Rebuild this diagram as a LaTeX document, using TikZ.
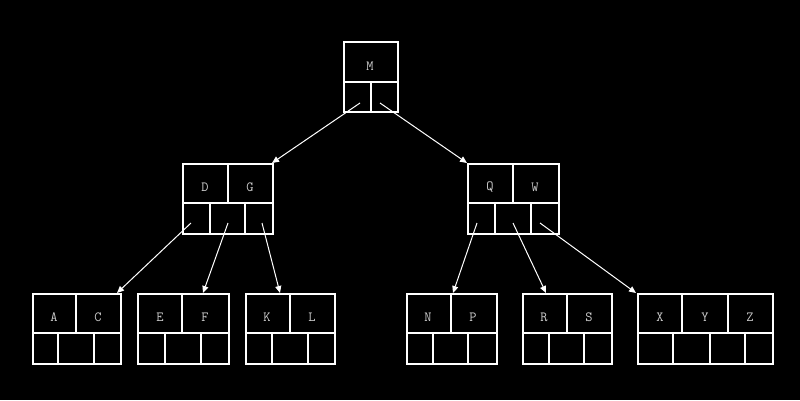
\documentclass[tikz,border=0pt]{standalone}
\usetikzlibrary{arrows.meta}
\definecolor{keygray}{RGB}{205,205,205}
\tikzset{
  boxline/.style={draw=white, line width=1.6pt},
  keytext/.style={text=keygray, font=\ttfamily\fontsize{14}{14}\selectfont, inner sep=0pt},
  ptr/.style={draw=white, line width=1pt, -{Triangle[length=7pt,width=6pt]}},
}
% \btbox{name}{x1}{y1}{x2}{y2}{ymid}
\newcommand{\btbox}[6]{%
  \node[boxline, inner sep=0pt, anchor=north west, minimum width={(#4-#2)*1pt}, minimum height={(#5-#3)*1pt}] (#1) at (#2,#3) {};
  \draw[boxline] (#2,#6) -- (#4,#6);
}
\newcommand{\vdiv}[3]{\draw[boxline] (#1,#2) -- (#1,#3);}
\begin{document}
\begin{tikzpicture}[x=1pt,y=-1pt]
\fill[black] (0,0) rectangle (800,400);
\useasboundingbox (0,0) rectangle (800,400);

% root
\btbox{m}{343}{41}{397}{111}{82}
\vdiv{371}{82}{111}
\node[keytext] (km) at (370,66) {M};

% level 1
\btbox{dg}{182}{163}{272}{233}{203}
\vdiv{228}{163}{203}
\vdiv{210}{203}{233}\vdiv{245}{203}{233}
\node[keytext] (kd) at (205,187) {D};
\node[keytext] (kg) at (250,187) {G};

\btbox{qw}{467}{163}{558}{233}{203}
\vdiv{513}{163}{203}
\vdiv{495}{203}{233}\vdiv{531}{203}{233}
\node[keytext] (kq) at (490,187) {Q};
\node[keytext] (kw) at (535,187) {W};

% leaves
\btbox{ac}{32}{293}{120}{363}{333}
\vdiv{76}{293}{333}
\vdiv{58}{333}{363}\vdiv{94}{333}{363}
\node[keytext] (ka) at (54,317) {A};
\node[keytext] (kc) at (98,317) {C};

\btbox{ef}{137}{293}{228}{363}{333}
\vdiv{182}{293}{333}
\vdiv{165}{333}{363}\vdiv{201}{333}{363}
\node[keytext] (ke) at (160,317) {E};
\node[keytext] (kf) at (205,317) {F};

\btbox{kl}{245}{293}{334}{363}{333}
\vdiv{290}{293}{333}
\vdiv{272}{333}{363}\vdiv{308}{333}{363}
\node[keytext] (kk) at (267,317) {K};
\node[keytext] (kll) at (312,317) {L};

\btbox{np}{406}{293}{496}{363}{333}
\vdiv{451}{293}{333}
\vdiv{433}{333}{363}\vdiv{468}{333}{363}
\node[keytext] (kn) at (428,317) {N};
\node[keytext] (kp) at (473,317) {P};

\btbox{rs}{522}{293}{611}{363}{333}
\vdiv{567}{293}{333}
\vdiv{549}{333}{363}\vdiv{584}{333}{363}
\node[keytext] (kr) at (544,317) {R};
\node[keytext] (ks) at (589,317) {S};

\btbox{xyz}{637}{293}{772}{363}{333}
\vdiv{682}{293}{333}\vdiv{728}{293}{333}
\vdiv{673}{333}{363}\vdiv{710}{333}{363}\vdiv{745}{333}{363}
\node[keytext] (kx) at (660,317) {X};
\node[keytext] (ky) at (705,317) {Y};
\node[keytext] (kz) at (750,317) {Z};

% pointer coordinates
\coordinate (m1) at (360,103);
\coordinate (m2) at (380,103);
\coordinate (d1) at (191,223);
\coordinate (d2) at (228,223);
\coordinate (d3) at (262,223);
\coordinate (q1) at (477,223);
\coordinate (q2) at (513,223);
\coordinate (q3) at (540,223);
\coordinate (tdg) at (272,163);
\coordinate (tqw) at (467,163);
\coordinate (tac) at (117,293);
\coordinate (tef) at (203,293);
\coordinate (tkl) at (280,293);
\coordinate (tnp) at (453,293);
\coordinate (trs) at (546,293);
\coordinate (txyz) at (636,293);

\draw[ptr] (m1) -- (tdg);
\draw[ptr] (m2) -- (tqw);
\draw[ptr] (d1) -- (tac);
\draw[ptr] (d2) -- (tef);
\draw[ptr] (d3) -- (tkl);
\draw[ptr] (q1) -- (tnp);
\draw[ptr] (q2) -- (trs);
\draw[ptr] (q3) -- (txyz);
\end{tikzpicture}
\end{document}
